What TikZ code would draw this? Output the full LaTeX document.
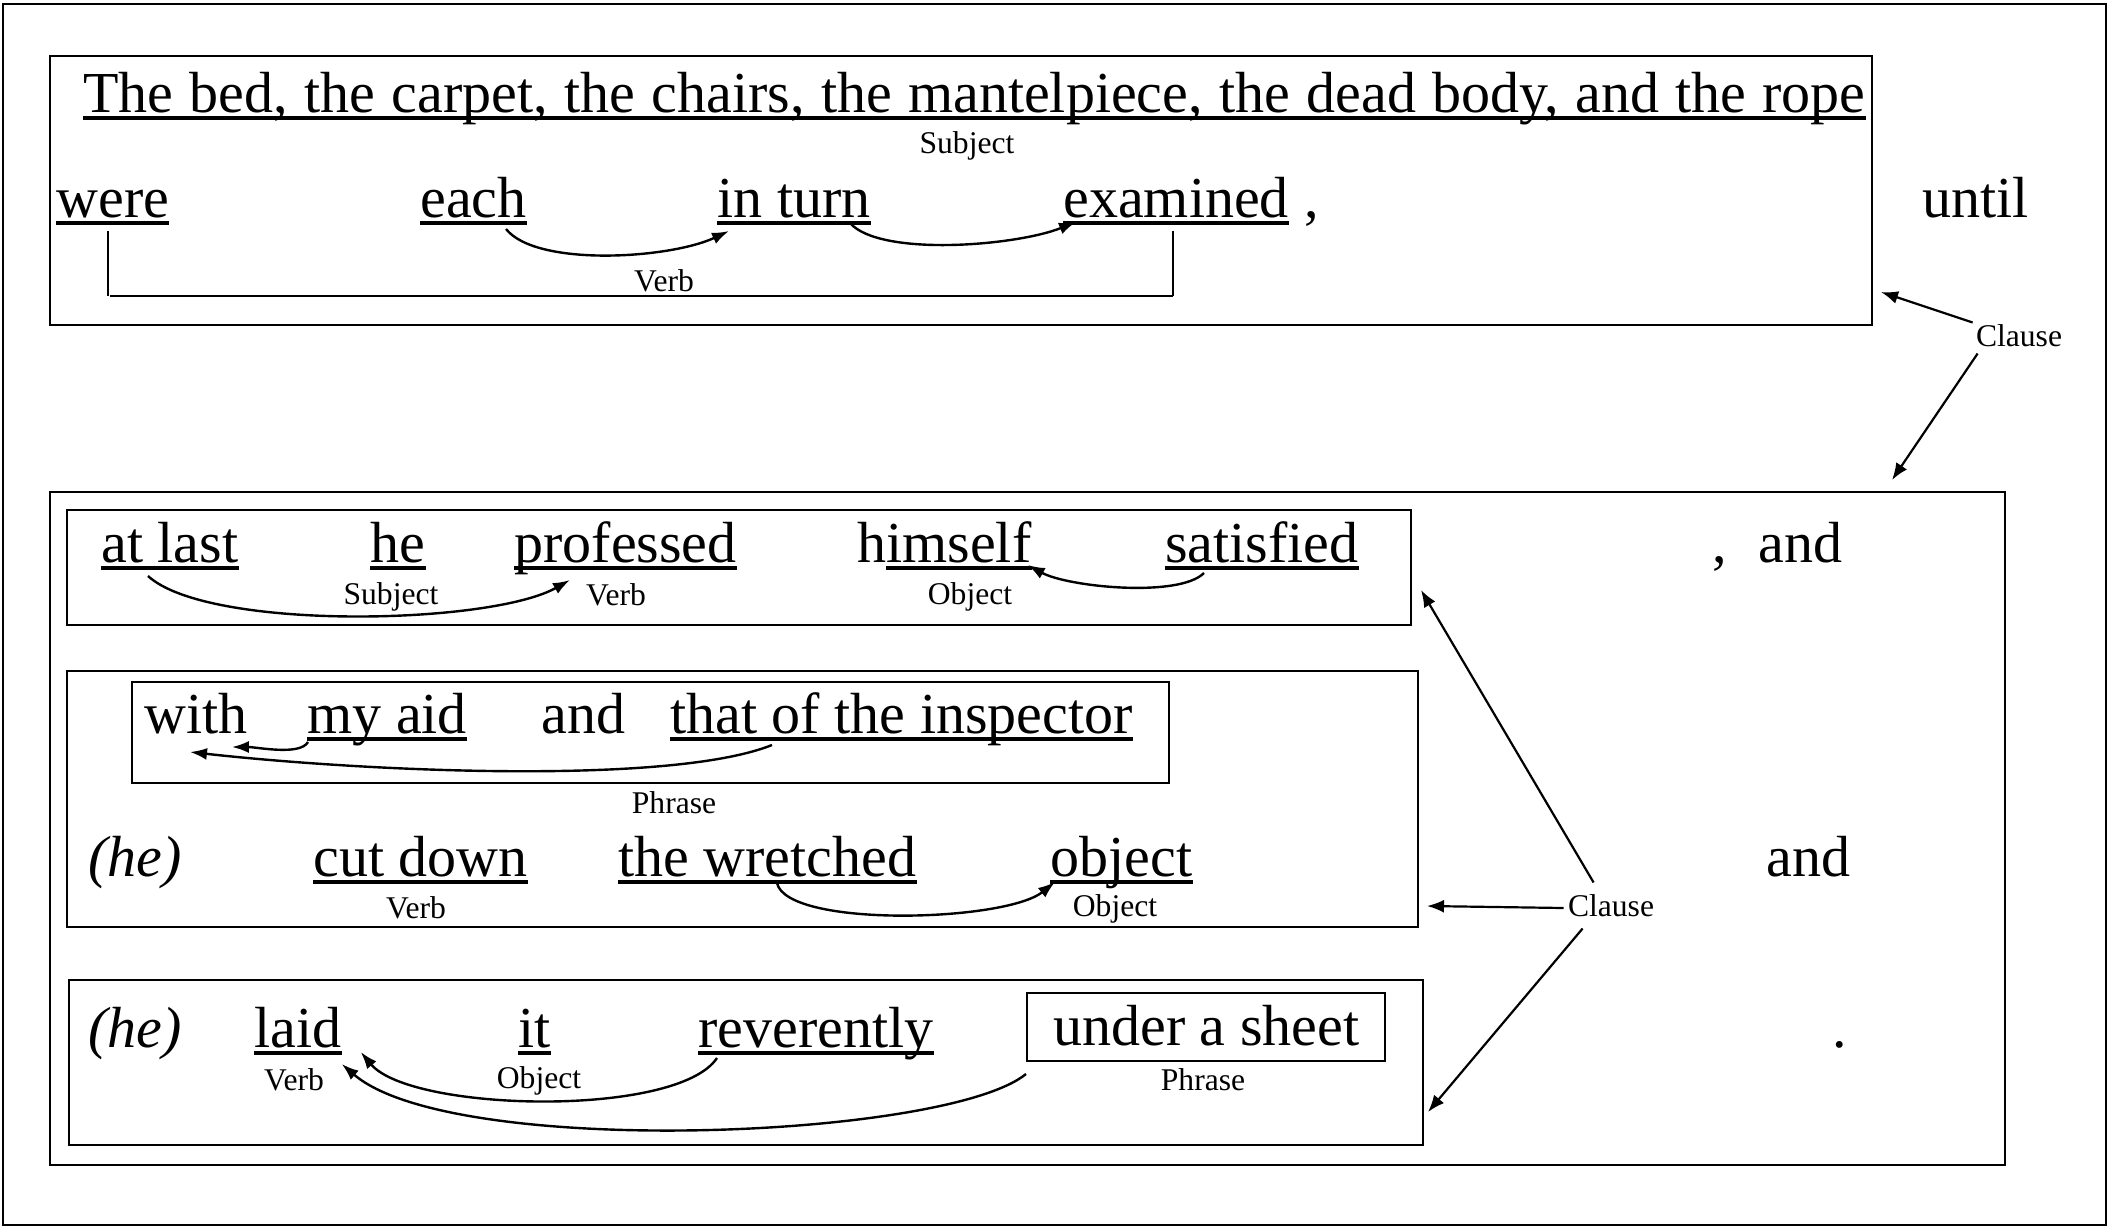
\documentclass[tikz,border=0pt]{standalone}
\usepackage{fontspec}
\setmainfont{Liberation Serif}
\usetikzlibrary{calc,fit,arrows.meta}
\begin{document}
\begin{tikzpicture}[x=0.5pt,y=-0.5pt,
 word/.style={anchor=base west, inner sep=0pt, font=\fontsize{29}{34}\selectfont},
 lab/.style={inner sep=0pt, font=\fontsize{15.8}{19}\selectfont},
 box/.style={draw, line width=1pt, inner sep=0pt},
 uline/.style={line width=1.6pt},
 link/.style={line width=1.2pt, -{Latex[length=8.5pt,width=6pt]}},
 clarr/.style={line width=1.1pt, -{Latex[length=8.5pt,width=6.5pt]}},
]
\useasboundingbox (0,0) rectangle (2109,1227);
\draw[line width=1pt] (3,4) rectangle (2106,1225);

% ---------- top clause ----------
\node[box, fit={(50,56) (1872,325)}] (box1) {};
\node[word] (subj) at (83,112) {\makebox[891pt][s]{The bed, the carpet, the chairs, the mantelpiece, the dead body, and the rope}};
\node[lab] (lsubj1) at (967,146) {Subject};
\node[word] (were) at (56,217) {were};
\node[word] (each) at (420,217) {each};
\node[word] (inturn) at (717,217) {in turn};
\node[word] (exam) at (1063,217) {examined};
\node[word] (comma1) at (1304,217) {,};
\node[word] (until) at (1922,217) {until};
\node[lab] (lverb1) at (664,281) {Verb};

\draw[line width=0.6pt] ($(were.base west)+(52,14)$) -- ($(were.base west)+(52,79)$);
\draw[line width=1.2pt] ($(were.base west)+(54,79)$) -- ($(exam.base west)+(110,79)$);
\draw[line width=0.6pt] ($(exam.base west)+(110,79)$) -- ($(exam.base west)+(110,14)$);

\draw[link] ($(each.base east)+(-21,12)$) .. controls +(30,38) and +(-60,28) .. ($(inturn.base west)+(12,14)$);
\draw[link] ($(inturn.base west)+(133,6)$) .. controls +(30,34) and +(-60,24) .. ($(exam.base west)+(13,5)$);

% ---------- clause label 1 ----------
\node[lab] (cl1) at (2019,336) {Clause};

% ---------- lower big box ----------
\node[box, fit={(50,492) (2005,1165)}] (box2) {};
\draw[clarr] ($(cl1.north west)+(-3,-2)$) -- ($(box1.south east)+(8,-34)$);
\draw[clarr] ($(cl1.south west)+(2,6)$) -- ($(box2.north east)+(-114,-11)$);

% row A
\node[box, fit={(67,510) (1411,625)}] (boxA) {};
\node[word] (atlast) at (101,562) {at last};
\node[word] (he) at (370,562) {he};
\node[word] (prof) at (514,562) {professed};
\node[word] (himself) at (857,562) {himself};
\node[word] (satis) at (1165,562) {satisfied};
\node[word] (commaA) at (1712,562) {,};
\node[word] (andA) at (1758,562) {and};
\node[lab] (lsubjA) at (391,597) {Subject};
\node[lab] (lverbA) at (616,595) {Verb};
\node[lab] (lobjA) at (970,597) {Object};
\draw[link] ($(atlast.base west)+(47,14)$) .. controls +(60,55) and +(-80,45) .. ($(prof.base west)+(56,18)$);
\draw[link] ($(satis.base west)+(39,11)$) .. controls +(-25,25) and +(40,22) .. ($(himself.base east)+(-4,3)$);

% row B
\node[box, fit={(67,671) (1418,927)}] (boxB) {};
\node[box, fit={(132,682) (1169,783)}] (phraseB) {};
\node[word] (with) at (144,733) {with};
\node[word] (myaid) at (307,733) {my aid};
\node[word] (andB1) at (541,733) {and};
\node[word] (thatof) at (670,733) {that of the inspector};
\draw[link] ($(myaid.base west)+(1,9)$) .. controls +(-8,14) and +(25,0) .. ($(with.base east)+(-16,14)$);
\draw[link] ($(thatof.base west)+(102,12)$) .. controls +(-100,40) and +(180,20) .. ($(with.base west)+(46,19)$);
\node[lab] (lphraseB) at (674,803) {Phrase};
\node[word, font=\fontsize{29}{34}\selectfont\itshape] (heB) at (88,876) {(he)};
\node[word] (cutdown) at (313,876) {cut down};
\node[word] (wretched) at (618,876) {the wretched};
\node[word] (object) at (1050,876) {object};
\node[word] (andB2) at (1766,876) {and};
\node[lab] (lverbB) at (416,908) {Verb};
\node[lab] (lobjB) at (1115,909) {Object};
\draw[link] ($(wretched.base west)+(159,7)$) .. controls +(10,45) and +(-50,40) .. ($(object.base west)+(5,6)$);

% row C
\node[box, fit={(69,980) (1423,1145)}] (boxC) {};
\node[box, fit={(1027,993) (1385,1061)}] (phraseC) {};
\node[word, font=\fontsize{29}{34}\selectfont\itshape] (heC) at (88,1047) {(he)};
\node[word] (laid) at (254,1047) {laid};
\node[word] (it) at (518,1047) {it};
\node[word] (rev) at (698,1047) {reverently};
\node[word] (sheet) at (1053,1045) {under a sheet};
\node[word] (period) at (1832,1047) {.};
\node[lab] (lverbC) at (294,1080) {Verb};
\node[lab] (lobjC) at (539,1081) {Object};
\node[lab] (lphraseC) at (1203,1080) {Phrase};
\draw[link] ($(rev.base west)+(19,11)$) .. controls +(-40,60) and +(50,60) .. ($(laid.base east)+(19,5)$);
\draw[link] ($(phraseC.south west)+(0,12)$) .. controls +(-80,65) and +(110,95) .. ($(laid.base east)+(0,17)$);

% clause label 2
\node[lab] (cl2) at (1611,906) {Clause};
\draw[clarr] ($(cl2.north west)+(26,-12)$) -- ($(boxA.south east)+(9,-36)$);
\draw[clarr] ($(cl2.west)+(-4,2)$) -- ($(boxB.south east)+(8,-22)$);
\draw[clarr] ($(cl2.south west)+(15,11)$) -- ($(boxC.south east)+(4,-34)$);

% underlines
\foreach \n in {subj,were,each,inturn,exam,atlast,he,prof,satis,myaid,thatof,cutdown,wretched,object,laid,it,rev}
  \draw[uline] ($(\n.base west)+(0,6)$) -- ($(\n.base east)+(0,6)$);
\draw[uline] ($(himself.base west)+(29,6)$) -- ($(himself.base east)+(0,6)$);
\end{tikzpicture}
\end{document}
